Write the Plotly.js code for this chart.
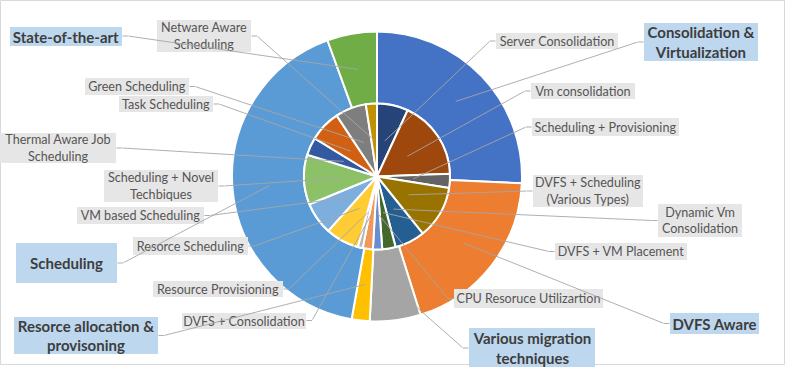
<!DOCTYPE html>
<html>
<head>
<meta charset="utf-8">
<script src="https://cdn.plot.ly/plotly-3.0.1.min.js"></script>
<style>
html,body{margin:0;padding:0;background:#ffffff;}
#chart{width:786px;height:367px;}
</style>
</head>
<body>
<div id="chart"></div>
<script>
// ---- data ----
const outerLabels = ['Consolidation &<br>Virtualization', 'DVFS Aware', 'Various migration<br>techniques',
  'Resorce allocation &<br>provisoning', 'Scheduling', 'State-of-the-art'];
const outerValues = [25.75, 19.4, 5.65, 2.0, 41.65, 5.55];
const outerColors = ['#4472C4', '#ED7D31', '#A5A5A5', '#FFC000', '#5B9BD5', '#70AD47'];

const innerLabels = ['Server Consolidation', 'Vm consolidation', 'Scheduling + Provisioning',
  'DVFS + Scheduling<br>(Various Types)', 'Dynamic Vm<br>Consolidation', 'DVFS + VM Placement',
  'CPU Resoruce Utilizartion', 'DVFS + Consolidation', 'Resource Provisioning', 'Resorce Scheduling',
  'VM based Scheduling', 'Scheduling + Novel<br>Techbiques', 'Thermal Aware Job<br>Scheduling',
  'Task Scheduling', 'Green Scheduling', 'Netware Aware<br>Scheduling'];
const innerValues = [6.9, 17.5, 3.1, 11.75, 6.65, 2.95, 2.05, 2.25, 1.1, 7.4, 7.15, 11.0, 3.95, 6.95, 6.85, 2.45];
const innerColors = ['#264478', '#9E480E', '#636363', '#997300', '#255E91', '#43682B', '#698ED0', '#F1975A',
  '#B7B7B7', '#FFCD33', '#7CAFDD', '#8CC168', '#335AA1', '#D26012', '#7E7E7E', '#BF9000'];

// ---- label box layout: [centre x, centre y, width, height, side of leader (-1 left, +1 right)] ----
const outerBoxes = [
  [701, 42, 114, 38, -1], [714.5, 323.5, 89, 21, -1], [532, 348, 126, 40, -1],
  [86, 335.5, 144, 37, 1], [66.5, 263, 101, 40, 1], [66, 36, 112, 19, 1]
];
const innerBoxes = [
  [557, 41, 122, 16, -1], [583, 91, 104, 16, -1], [605.5, 127, 147, 18, -1],
  [588, 191, 110, 32, -1], [700, 220.5, 84, 33, -1], [621, 251.5, 132, 17, -1],
  [528.5, 298.5, 149, 19, -1], [244, 320.5, 124, 16, 1], [218, 289, 130, 16, 1],
  [190.5, 246, 115, 18, 1], [140.5, 215.5, 127, 17, 1], [161, 186, 114, 32, 1],
  [58, 148, 116, 30, 1], [166, 104, 94, 16, 1], [137, 86.5, 104, 17, 1], [204, 36, 94, 32, 1]
];

// ---- geometry ----
const W = 786, H = 367, CX = 377, CY = 176.5, R_OUT = 145, R_IN = 73;

function midAngles(vals) {
  const tot = vals.reduce((a, b) => a + b, 0);
  let c = 0;
  return vals.map(v => { const a = (c + v / 2) / tot * 2 * Math.PI; c += v; return a; });
}
function pt(angle, r) { return [CX + r * Math.sin(angle), CY - r * Math.cos(angle)]; }

const traces = [
  {type: 'scatter', x: [], y: [], xaxis: 'x', yaxis: 'y', hoverinfo: 'skip', showlegend: false},
  {
    type: 'pie', labels: outerLabels, values: outerValues, sort: false, direction: 'clockwise', rotation: 0,
    hole: R_IN / R_OUT, textinfo: 'none', hoverinfo: 'label+value', showlegend: false,
    marker: {colors: outerColors, line: {color: '#ffffff', width: 2}},
    domain: {x: [(CX - R_OUT) / W, (CX + R_OUT) / W], y: [1 - (CY + R_OUT) / H, 1 - (CY - R_OUT) / H]}
  },
  {
    type: 'pie', labels: innerLabels, values: innerValues, sort: false, direction: 'clockwise', rotation: 0,
    textinfo: 'none', hoverinfo: 'label+value', showlegend: false,
    marker: {colors: innerColors, line: {color: '#ffffff', width: 2}},
    domain: {x: [(CX - R_IN) / W, (CX + R_IN) / W], y: [1 - (CY + R_IN) / H, 1 - (CY - R_IN) / H]}
  }
];

const annotations = [];
const lineColor = '#A6A6A6';
function addLabels(labels, boxes, bg, font) {
  labels.forEach((t, i) => {
    const b = boxes[i];
    annotations.push({
      xref: 'x', yref: 'y', x: b[0], y: b[1], text: t, showarrow: false,
      width: b[2], height: b[3], bgcolor: bg, borderpad: 0, borderwidth: 0,
      xanchor: 'center', yanchor: 'middle', align: 'center', valign: 'middle', font: font
    });
  });
}
function addLeaders(vals, boxes, r) {
  const mids = midAngles(vals);
  mids.forEach((a, i) => {
    const b = boxes[i];
    const anchor = [b[0] + b[4] * b[2] / 2, b[1]];
    const elbow = [anchor[0] + b[4] * 6, b[1]];
    const tgt = pt(a, r);
    [[anchor, elbow], [elbow, tgt]].forEach(seg => {
      annotations.push({
        xref: 'x', yref: 'y', axref: 'x', ayref: 'y',
        ax: seg[0][0], ay: seg[0][1], x: seg[1][0], y: seg[1][1],
        text: ' ', font: {size: 1}, borderpad: 0, showarrow: true, arrowhead: 0,
        arrowwidth: 0.9, arrowcolor: lineColor, standoff: 0, startstandoff: 0
      });
    });
  });
}

addLabels(innerLabels, innerBoxes, '#E7E6E6', {family: 'Lato, sans-serif', size: 12.6, color: '#555555'});
addLabels(outerLabels, outerBoxes, '#BDD7EE', {family: 'Lato, sans-serif', size: 15, color: '#3D3D3D', weight: 'bold'});
addLeaders(innerValues, innerBoxes, R_IN * 0.5);
addLeaders(outerValues, outerBoxes, R_OUT * 0.75);

const layout = {
  width: W, height: H,
  margin: {l: 0, r: 0, t: 0, b: 0, pad: 0},
  paper_bgcolor: '#ffffff', plot_bgcolor: 'rgba(0,0,0,0)',
  showlegend: false,
  xaxis: {range: [0, W], visible: false, fixedrange: true, domain: [0, 1]},
  yaxis: {range: [H, 0], visible: false, fixedrange: true, domain: [0, 1]},
  annotations: annotations,
  shapes: [{type: 'rect', xref: 'x', yref: 'y', x0: 0.5, x1: 784.5, y0: 0.5, y1: 364.5,
    line: {color: '#D9D9D9', width: 1}, fillcolor: 'rgba(0,0,0,0)', layer: 'below'}]
};

Plotly.newPlot('chart', traces, layout, {displayModeBar: false, staticPlot: true});
</script>
</body>
</html>
